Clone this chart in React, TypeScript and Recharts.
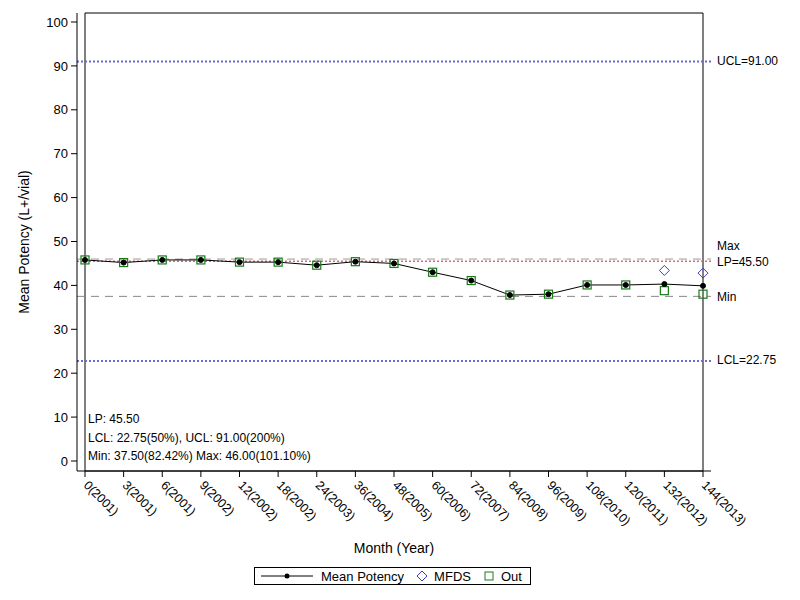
import React from 'react';
import { ComposedChart, Line, XAxis, YAxis, ReferenceLine, ReferenceArea, Legend } from 'recharts';

const months = [
  '0(2001)', '3(2001)', '6(2001)', '9(2002)', '12(2002)', '18(2002)', '24(2003)', '36(2004)', '48(2005)',
  '60(2006)', '72(2007)', '84(2008)', '96(2009)', '108(2010)', '120(2011)', '132(2012)', '144(2013)',
];
const meanPotency = [45.8, 45.2, 45.8, 45.8, 45.3, 45.3, 44.6, 45.4, 45.0, 43.0, 41.1, 37.8, 38.0, 40.1, 40.1, 40.3, 39.9];
const mfds: (number | null)[] = [null, null, null, null, null, null, null, null, null, null, null, null, null, null, null, 43.4, 42.8];
const outValues = [45.8, 45.2, 45.8, 45.8, 45.3, 45.3, 44.6, 45.4, 45.0, 43.0, 41.1, 37.8, 38.0, 40.1, 40.1, 38.8, 38.0];
const yTicks = [0, 10, 20, 30, 40, 50, 60, 70, 80, 90, 100];

const LP = 45.5;
const UCL = 91.0;
const LCL = 22.75;
const MIN = 37.5;
const MAX = 46.0;
const Y_MIN = -2.28;
const Y_MAX = 102.05;

const notes = [
  'LP: 45.50',
  'LCL: 22.75(50%), UCL: 91.00(200%)',
  'Min: 37.50(82.42%) Max: 46.00(101.10%)',
];

const data = months.map((m, i) => ({ month: m, mean: meanPotency[i], mfds: mfds[i], out: outValues[i] }));

const FONT = '"Liberation Sans", Arial, sans-serif';
const BLUE = '#3a3ad0';
const GREEN = '#1a7a1a';

const Diamond = (props: any) => {
  const { cx, cy, value } = props;
  if (value == null || cx == null) return null;
  const r = 5;
  return <path d={`M${cx},${cy - r}L${cx + r},${cy}L${cx},${cy + r}L${cx - r},${cy}Z`} fill="none" stroke={BLUE} strokeWidth={1} />;
};

const Square = (props: any) => {
  const { cx, cy, value } = props;
  if (value == null || cx == null) return null;
  return <rect x={cx - 4} y={cy - 4} width={8} height={8} fill="none" stroke={GREEN} strokeWidth={1.2} />;
};

const XTick = (props: any) => {
  const { x, y, payload } = props;
  const tx = x - 2;
  const ty = y + 7;
  return (
    <text x={tx} y={ty} transform={`rotate(45 ${tx} ${ty})`} textAnchor="start" fontSize={12.5} fill="#000" fontFamily={FONT}>
      {payload.value}
    </text>
  );
};

const rightLabel = (text: string, dy: number) => (p: any) => {
  const { viewBox } = p;
  return (
    <text x={viewBox.x + viewBox.width + 6} y={viewBox.y + dy} fontSize={12} fill="#000" fontFamily={FONT} dominantBaseline="middle">
      {text}
    </text>
  );
};

const LegendBox = () => (
  <div style={{ border: '1px solid #000', height: 18, display: 'flex', alignItems: 'center', fontSize: 13, fontFamily: FONT, color: '#000', boxSizing: 'border-box' }}>
    <svg width={60} height={10} style={{ marginLeft: 6 }}>
      <line x1={0} y1={5} x2={52} y2={5} stroke="#000" />
      <circle cx={26} cy={5} r={2.5} fill="#000" />
    </svg>
    <span>Mean Potency</span>
    <svg width={12} height={12} style={{ marginLeft: 12 }}>
      <path d="M6,1L11,6L6,11L1,6Z" fill="none" stroke={BLUE} />
    </svg>
    <span style={{ marginLeft: 6 }}>MFDS</span>
    <svg width={12} height={12} style={{ marginLeft: 12 }}>
      <rect x={2} y={2} width={8} height={8} fill="none" stroke={GREEN} />
    </svg>
    <span style={{ marginLeft: 6 }}>Out</span>
  </div>
);

export default function App() {
  return (
    <div style={{ position: 'absolute', left: 0, top: 0, width: 800, height: 600, background: '#fff' }}>
      <ComposedChart width={800} height={600} data={data} margin={{ top: 13, right: 89, bottom: 49, left: 27 }}>
        <XAxis
          dataKey="month"
          scale="point"
          padding={{ left: 8, right: 8 }}
          interval={0}
          tick={<XTick />}
          tickSize={6}
          tickLine={{ stroke: '#000' }}
          axisLine={{ stroke: '#000' }}
          height={80}
          label={{ value: 'Month (Year)', position: 'insideBottom', offset: 0, dy: 2, fontSize: 14, fill: '#000', fontFamily: FONT }}
        />
        <YAxis
          domain={[Y_MIN, Y_MAX]}
          ticks={yTicks}
          allowDataOverflow
          width={50}
          tickSize={6}
          tickMargin={3}
          tick={{ fontSize: 13, fill: '#000', fontFamily: FONT }}
          tickLine={{ stroke: '#000' }}
          axisLine={{ stroke: '#000' }}
          label={{ value: 'Mean Potency (L+/vial)', angle: -90, position: 'insideLeft', dx: -8, fontSize: 14, fill: '#000', fontFamily: FONT, style: { textAnchor: 'middle' } }}
        />
        <ReferenceArea y1={Y_MIN} y2={Y_MAX} fill="none" fillOpacity={0} stroke="#000" strokeWidth={1} ifOverflow="visible" />
        <ReferenceLine y={UCL} stroke="#6b6bd8" strokeWidth={2} strokeDasharray="2 2" label={rightLabel('UCL=91.00', 0)} />
        <ReferenceLine y={LCL} stroke="#6b6bd8" strokeWidth={2} strokeDasharray="2 2" label={rightLabel('LCL=22.75', 0)} />
        <ReferenceLine y={MAX} stroke="#999" strokeDasharray="8 6" label={rightLabel('Max', -12)} />
        <ReferenceLine y={LP} stroke="#d07070" strokeWidth={1.5} strokeDasharray="2 2" label={rightLabel('LP=45.50', 2)} />
        <ReferenceLine y={MIN} stroke="#888" strokeDasharray="8 6" label={rightLabel('Min', 1)} />
        <Line dataKey="out" stroke="none" dot={<Square />} activeDot={false} isAnimationActive={false} legendType="none" />
        <Line dataKey="mfds" stroke="none" dot={<Diamond />} activeDot={false} isAnimationActive={false} legendType="none" />
        <Line dataKey="mean" stroke="#000" strokeWidth={1} dot={{ r: 2.5, fill: '#000', stroke: '#000' }} activeDot={false} isAnimationActive={false} />
        {notes.map((t, i) => (
          <text key={i} x={88} y={423 + i * 18.5} fontSize={12} fill="#000" fontFamily={FONT}>
            {t}
          </text>
        ))}
        <Legend
          verticalAlign="middle"
          layout="horizontal"
          content={<LegendBox />}
          wrapperStyle={{ position: 'absolute', left: 254, top: 567, width: 277, height: 20 }}
        />
      </ComposedChart>
    </div>
  );
}
